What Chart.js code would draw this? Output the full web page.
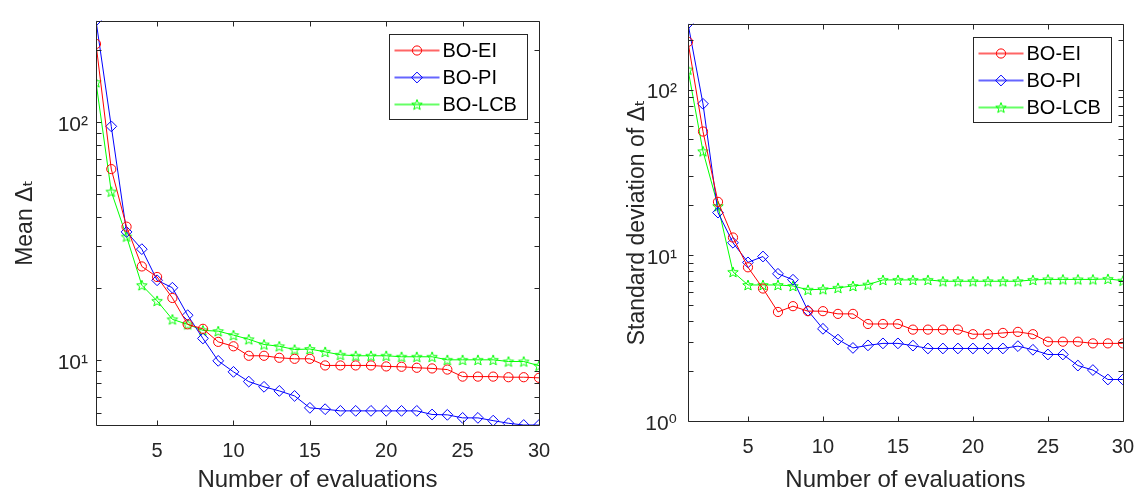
<!DOCTYPE html>
<html>
<head>
<meta charset="utf-8">
<script src="https://cdn.jsdelivr.net/npm/chart.js@4.4.0/dist/chart.umd.min.js"></script>
<style>
body { margin: 0; background: #fff; width: 1148px; height: 492px; overflow: hidden; position: relative; }
.pane { position: absolute; top: 0; width: 574px; height: 492px; }
</style>
</head>
<body>
<div class="pane" style="left:0"><canvas id="meanChart" width="574" height="492"></canvas></div>
<div class="pane" style="left:574px"><canvas id="stdChart" width="574" height="492"></canvas></div>
<script>
// evaluations 1..30, three acquisition functions
const evals = [1,2,3,4,5,6,7,8,9,10,11,12,13,14,15,16,17,18,19,20,21,22,23,24,25,26,27,28,29,30];
const xTicks = [5,10,15,20,25,30];
const seriesNames = ['BO-EI', 'BO-PI', 'BO-LCB'];
const decades = [1, 10, 100];
const decadeLabels = ['10⁰', '10¹', '10²'];

const meanEI  = [213, 63.4, 36.3, 24.7, 22.3, 18.2, 14.1, 13.5, 11.9, 11.4, 10.4, 10.4, 10.2, 10.1, 10.1, 9.47, 9.47, 9.47, 9.47, 9.38, 9.35, 9.26, 9.2, 9.1, 8.5, 8.5, 8.5, 8.45, 8.45, 8.4];
const meanPI  = [267, 95.9, 34.5, 29.2, 21.6, 20.1, 15.4, 12.3, 9.9, 8.9, 8.1, 7.7, 7.4, 7.05, 6.28, 6.2, 6.1, 6.1, 6.1, 6.1, 6.1, 6.1, 5.89, 5.87, 5.7, 5.7, 5.55, 5.41, 5.32, 5.32];
const meanLCB = [147, 51, 33.0, 20.6, 17.7, 14.8, 14.1, 13.3, 13.2, 12.7, 12.2, 11.6, 11.4, 11.05, 11.1, 10.8, 10.5, 10.4, 10.4, 10.4, 10.3, 10.3, 10.3, 10.0, 10.0, 10.0, 10.0, 9.84, 9.84, 9.45];

const stdEI  = [194, 55.8, 21.0, 12.8, 8.46, 6.3, 4.55, 4.93, 4.6, 4.6, 4.43, 4.43, 3.85, 3.85, 3.85, 3.56, 3.56, 3.56, 3.56, 3.34, 3.34, 3.4, 3.45, 3.34, 3.01, 3.01, 3.01, 2.94, 2.94, 2.94];
const stdPI  = [250, 82, 18.1, 11.9, 9.06, 9.83, 7.73, 7.12, 4.63, 3.6, 3.1, 2.76, 2.86, 2.94, 2.94, 2.85, 2.74, 2.74, 2.74, 2.74, 2.74, 2.74, 2.83, 2.69, 2.52, 2.52, 2.16, 2.03, 1.78, 1.78];
const stdLCB = [132, 42.4, 19.8, 7.94, 6.62, 6.62, 6.62, 6.53, 6.19, 6.24, 6.36, 6.53, 6.65, 7.1, 7.1, 7.1, 7.1, 6.97, 6.97, 6.97, 6.97, 6.97, 6.97, 7.1, 7.15, 7.15, 7.15, 7.15, 7.2, 7.03];

const axisColor = '#262626';
const fontFamily = '"Liberation Sans", Arial, "DejaVu Sans", sans-serif';

// matlab style pentagram marker
function makePentagram(color, r){
    const c = document.createElement('canvas');
    const s = Math.ceil(2 * r + 3);
    c.width = s; c.height = s;
    const g = c.getContext('2d');
    g.strokeStyle = color;
    g.lineWidth = 1;
    g.beginPath();
    for(let i = 0; i < 10; i += 1){
        const rad = i % 2 === 0 ? r : r * 0.42;
        const a = -Math.PI / 2 + i * Math.PI / 5;
        const px = s / 2 + rad * Math.cos(a);
        const py = s / 2 + r * 0.1 + rad * Math.sin(a);
        if(i === 0) g.moveTo(px, py); else g.lineTo(px, py);
    }
    g.closePath();
    g.stroke();
    return c;
}
const star = makePentagram('#00ff00', 5.5);

const styles = [
    {color: '#ff0000', pointStyle: 'circle', radius: 4.6},
    {color: '#0000ff', pointStyle: 'rectRot', radius: 5.4},
    {color: '#00ff00', pointStyle: star, radius: 5.5}
];

function buildDatasets(values){
    return values.map((v, i) => ({
        label: seriesNames[i],
        data: v,
        borderColor: styles[i].color,
        borderWidth: 1,
        backgroundColor: 'rgba(0,0,0,0)',
        pointStyle: styles[i].pointStyle,
        pointRadius: styles[i].radius,
        pointBorderColor: styles[i].color,
        pointBackgroundColor: 'rgba(0,0,0,0)',
        pointBorderWidth: 1,
        tension: 0
    }));
}

// box around axes, inward ticks and legend inside the axes
const matlabAxes = {
    id: 'matlabAxes',
    afterDraw(chart){
        const ctx = chart.ctx;
        const a = chart.chartArea;
        const xs = chart.scales.x;
        const ys = chart.scales.y;
        ctx.save();
        ctx.strokeStyle = axisColor;
        ctx.lineWidth = 1;
        ctx.beginPath();
        const L = Math.round(a.left) + 0.5, R = Math.round(a.right) + 0.5;
        const T = Math.round(a.top) + 0.5, B = Math.round(a.bottom) + 0.5;
        ctx.rect(L, T, R - L, B - T);
        xs.ticks.forEach(t => {
            const px = Math.round(xs.getPixelForValue(t.value)) + 0.5;
            ctx.moveTo(px, B); ctx.lineTo(px, B - 5);
            ctx.moveTo(px, T); ctx.lineTo(px, T + 5);
        });
        ys.ticks.forEach(t => {
            const py = Math.round(ys.getPixelForValue(t.value)) + 0.5;
            ctx.moveTo(L, py); ctx.lineTo(L + 5, py);
            ctx.moveTo(R, py); ctx.lineTo(R - 5, py);
        });
        ctx.stroke();

        // legend
        const ds = chart.data.datasets;
        ctx.font = '20px ' + fontFamily;
        let tw = 0;
        ds.forEach(d => { tw = Math.max(tw, ctx.measureText(d.label).width); });
        const bw = Math.round(5 + 45 + 4 + tw + 10);
        const bh = 85;
        const bx = Math.round(a.right - 12 - bw) + 0.5;
        const by = Math.round(a.top + 13) + 0.5;
        ctx.fillStyle = '#fff';
        ctx.fillRect(bx, by, bw, bh);
        ctx.strokeStyle = axisColor;
        ctx.strokeRect(bx, by, bw, bh);
        ds.forEach((d, i) => {
            const cy = by + 16 + i * 27;
            ctx.save();
            ctx.globalAlpha = 0.6;
            ctx.strokeStyle = d.borderColor;
            ctx.lineWidth = 2;
            ctx.beginPath();
            ctx.moveTo(bx + 5, cy); ctx.lineTo(bx + 50, cy);
            ctx.stroke();
            ctx.restore();
            ctx.strokeStyle = d.borderColor;
            ctx.fillStyle = 'rgba(0,0,0,0)';
            ctx.lineWidth = 1;
            Chart.helpers.drawPoint(ctx, {pointStyle: d.pointStyle, radius: d.pointRadius, borderWidth: 1, rotation: 0}, bx + 27.5, cy);
            ctx.fillStyle = '#000';
            ctx.textBaseline = 'middle';
            ctx.textAlign = 'left';
            ctx.fillText(d.label, bx + 53, cy + 1);
        });
        ctx.restore();
    }
};

function renderChart(id, values, yTitle, yMin, yMax, layout){
    new Chart(document.getElementById(id), {
        type: 'line',
        data: { labels: evals, datasets: buildDatasets(values) },
        plugins: [matlabAxes],
        options: {
            responsive: false,
            animation: false,
            layout: { padding: { left: 0, right: layout.right, top: 15, bottom: 0 } },
            plugins: { legend: { display: false }, tooltip: { enabled: false } },
            scales: {
                x: {
                    type: 'linear',
                    min: 1,
                    max: 30,
                    afterBuildTicks: s => { s.ticks = xTicks.map(v => ({value: v})); },
                    afterFit: s => { s.height = layout.xHeight; },
                    grid: { display: false, drawTicks: false },
                    border: { display: false },
                    ticks: { autoSkip: false, maxRotation: 0, padding: 14, color: axisColor, font: { family: fontFamily, size: 20 } },
                    title: { display: true, text: 'Number of evaluations', color: axisColor, padding: { top: -3, bottom: -3 }, font: { family: fontFamily, size: 24 } }
                },
                y: {
                    type: 'logarithmic',
                    min: yMin,
                    max: yMax,
                    afterBuildTicks: s => {
                        const t = [];
                        decades.concat([1000]).forEach(d => {
                            for(let k = 1; k < 10; k += 1){
                                const v = d * k / 10;
                                if(v >= yMin - 1e-9 && v <= yMax + 1e-9) t.push({value: v});
                            }
                        });
                        s.ticks = t;
                    },
                    afterFit: s => { s.width = layout.yWidth; },
                    grid: { display: false, drawTicks: false },
                    border: { display: false },
                    ticks: {
                        autoSkip: false,
                        padding: layout.tickPad,
                        labelOffset: 3,
                        color: axisColor,
                        font: { family: fontFamily, size: 21 },
                        callback: v => {
                            const i = decades.indexOf(v);
                            return i >= 0 ? decadeLabels[i] : '';
                        }
                    },
                    title: { display: true, text: yTitle, color: axisColor, padding: { top: layout.titlePad, bottom: 0 }, font: { family: fontFamily, size: 23 } }
                }
            }
        }
    });
}

renderChart('meanChart', [meanEI, meanPI, meanLCB], 'Mean Δₜ', 5.32, 267,
    { right: 35, xHeight: 67, yWidth: 96, tickPad: 8, titlePad: 12 });
renderChart('stdChart', [stdEI, stdPI, stdLCB], 'Standard deviation of Δₜ', 1, 250,
    { right: 14, xHeight: 71, yWidth: 114, tickPad: 11, titlePad: 50 });
</script>
</body>
</html>
